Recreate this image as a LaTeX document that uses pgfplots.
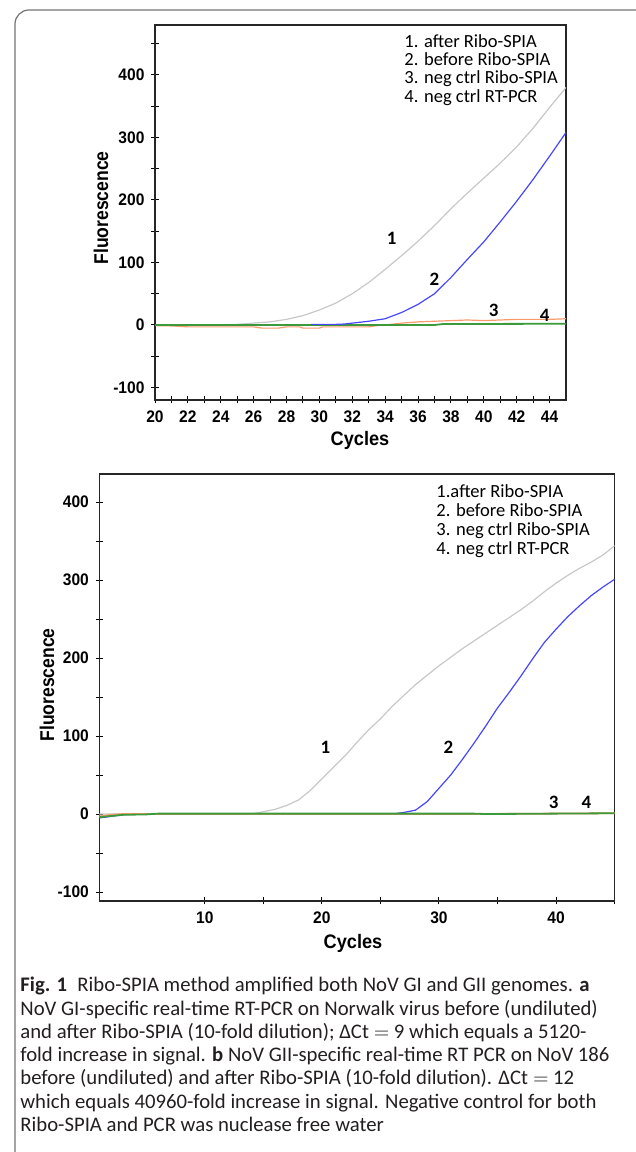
\documentclass[border=0pt]{standalone}
\usepackage{pgfplots}
\pgfplotsset{compat=1.18}
\usepackage{fontspec}
\setmainfont{Carlito}
\newfontfamily\arialtick[FakeStretch=0.93]{Liberation Sans}
\newfontfamily\arialcond[FakeStretch=0.88]{Liberation Sans}

\definecolor{cgray}{HTML}{C8C8C8}
\definecolor{cblue}{HTML}{4646FF}
\definecolor{corange}{HTML}{F99A6B}
\definecolor{cgreen}{HTML}{3C9A3C}
\definecolor{captxt}{HTML}{231F20}

\pgfplotsset{
  qpcr/.style={
    scale only axis,
    anchor=south west,
    axis line style={draw=black!85, line width=0.6bp},
    tick pos=left,
    tick align=center,
    major tick length=3.5bp,
    minor tick length=3.5bp,
    every tick/.style={black, line width=0.5bp},
    /pgf/number format/assume math mode=true,
    tick label style={font=\arialtick\bfseries\fontsize{8.4}{8.4}\selectfont},
    clip=true,
  },
  curve/.style={line width=0.6bp},
}

\begin{document}
\begin{tikzpicture}
\useasboundingbox (0,0) rectangle (318bp,576bp);
\draw[black!55, line width=0.6bp, rounded corners=7bp] (7.5bp,571bp) rectangle (345bp,-12bp);

% ---------- panel a ----------
\begin{axis}[qpcr,
  at={(77.5bp,376bp)},
  width=205.5bp, height=187.5bp,
  xmin=20, xmax=45, ymin=-120, ymax=480,
  xtick={20,22,...,44}, minor x tick num=1,
  ytick={-100,0,...,400}, minor ytick={-50,50,...,450},
]
\addplot[curve, cgray] coordinates {
  (20,0) (21,0) (22,0) (23,0) (24,0.5) (25,1) (26,3) (27,5) (28,9) (29,15)
  (30,24) (31,35) (32,50) (33,68) (34,89) (35,111) (36,134) (37,159)
  (38,186) (39,211) (40,235) (41,259) (42,285) (43,315) (44,348) (45,380)
};
\addplot[curve, corange] coordinates {
  (20,-1) (21,-1.5) (22,-3) (25,-3) (26,-3) (26.5,-5) (27.5,-5) (28,-3)
  (28.8,-3) (29,-5) (30,-5) (30.2,-3) (33,-3) (33.5,-1) (34,0) (35,3)
  (36,5) (37,6) (38,7) (39,8) (40,7) (41,8) (42,9) (43,9) (44,9) (45,10)
};
\addplot[line width=0.9bp, cgreen] coordinates {
  (20,0) (30,0) (37,0) (37.5,1.5) (45,2)
};
\addplot[curve, cblue] coordinates {
  (29.5,1) (30,1) (31,1) (31.5,1.5) (32,3) (33,6) (34,10) (35,20) (36,33)
  (37,50) (38,76) (39,105) (40,133) (41,165) (42,198) (43,233) (44,270) (45,308)
};
\node[font=\bfseries\fontsize{9.5}{9.5}\selectfont] at (axis cs:34.4,139) {1};
\node[font=\bfseries\fontsize{9.5}{9.5}\selectfont] at (axis cs:37.0,73) {2};
\node[font=\bfseries\fontsize{9.5}{9.5}\selectfont] at (axis cs:40.6,24) {3};
\node[font=\bfseries\fontsize{9.5}{9.5}\selectfont] at (axis cs:43.7,16) {4};
\end{axis}

\node[anchor=north west, inner sep=0pt, align=left,
  font=\fontsize{9.3}{9.2}\selectfont] at (202bp,559bp)
  {1. after Ribo-SPIA\\2. before Ribo-SPIA\\3. neg ctrl Ribo-SPIA\\4. neg ctrl RT-PCR};
\node[rotate=90, font=\arialcond\bfseries\fontsize{10}{10}\selectfont] at (50.5bp,472bp) {Fluorescence};
\node[font=\arialtick\bfseries\fontsize{9.8}{9.8}\selectfont] at (180bp,356bp) {Cycles};

% ---------- panel b ----------
\begin{axis}[qpcr,
  at={(49.7bp,125.5bp)},
  width=257.6bp, height=213.5bp,
  xmin=1, xmax=45, ymin=-111.5, ymax=436,
  xtick={10,20,30,40}, minor xtick={15,25,35,45},
  ytick={-100,0,...,400}, minor ytick={-50,50,...,350},
]
\addplot[curve, cgray] coordinates {
  (1,0) (14,0) (15,3) (16,6) (17,11) (18,18) (19,30) (20,45) (21,60)
  (22,75) (23,92) (24,108) (25,122) (26,138) (27,152) (28,166) (29,178)
  (30,190) (31,201) (32,212) (33,222) (34,232) (35,242) (36,252) (37,262)
  (38,273) (39,285) (40,296) (41,306) (42,315) (43,323) (44,332) (45,344)
};
\addplot[curve, cblue] coordinates {
  (1,-5) (2,-3) (3,-1) (4,0) (26,0) (27,2) (28,5) (29,16) (30,33) (31,50)
  (32,70) (33,91) (34,113) (35,136) (36,156) (37,177) (38,199) (39,220)
  (40,237) (41,253) (42,267) (43,280) (44,291) (45,301)
};
\addplot[line width=0.9bp, corange] coordinates {
  (1,-3) (2,-1) (3,0) (20,0) (33,0) (45,1)
};
\addplot[line width=0.9bp, cgreen] coordinates {
  (1,-4) (2,-2.5) (3,-1) (5,-0.5) (6,0.5) (20,0.5) (33,0.5) (34,0) (45,1)
};
\node[font=\bfseries\fontsize{9.5}{9.5}\selectfont] at (axis cs:20.3,86) {1};
\node[font=\bfseries\fontsize{9.5}{9.5}\selectfont] at (axis cs:30.8,86) {2};
\node[font=\bfseries\fontsize{9.5}{9.5}\selectfont] at (axis cs:39.8,14.5) {3};
\node[font=\bfseries\fontsize{9.5}{9.5}\selectfont] at (axis cs:42.6,14.5) {4};
\end{axis}

\node[anchor=north west, inner sep=0pt, align=left,
  font=\fontsize{9.3}{9.5}\selectfont] at (218bp,334bp)
  {1.after Ribo-SPIA\\2. before Ribo-SPIA\\3. neg ctrl Ribo-SPIA\\4. neg ctrl RT-PCR};
\node[rotate=90, font=\arialcond\bfseries\fontsize{10}{10}\selectfont] at (23.5bp,233.5bp) {Fluorescence};
\node[font=\arialtick\bfseries\fontsize{9.8}{9.8}\selectfont] at (176.5bp,104.5bp) {Cycles};

% ---------- caption ----------
\node[anchor=north west, inner sep=0pt, align=left, text=captxt,
  font=\fontsize{10.4}{11.65}\selectfont] at (10bp,87.5bp)
  {\textbf{Fig. 1}\enspace Ribo-SPIA method amplified both NoV GI and GII genomes. \textbf{a}\\
   NoV GI-specific real-time RT-PCR on Norwalk virus before (undiluted)\\
   and after Ribo-SPIA (10-fold dilution); ΔCt $=$ 9 which equals a 5120-\\
   fold increase in signal. \textbf{b} NoV GII-specific real-time RT PCR on NoV 186\\
   before (undiluted) and after Ribo-SPIA (10-fold dilution). ΔCt $=$ 12\\
   which equals 40960-fold increase in signal. Negative control for both\\
   Ribo-SPIA and PCR was nuclease free water};
\end{tikzpicture}
\end{document}
